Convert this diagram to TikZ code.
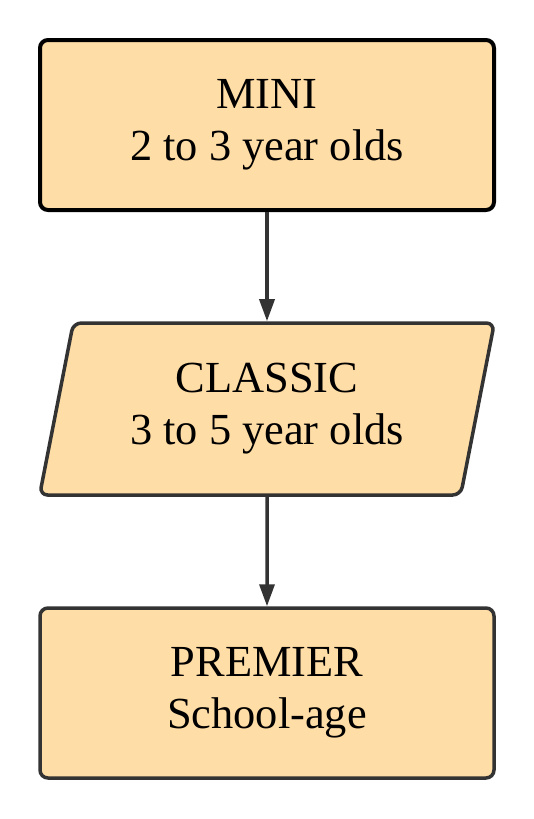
\documentclass[tikz,border=0pt]{standalone}
\usepackage{fontspec}
\setmainfont{Liberation Serif}
\usetikzlibrary{shapes.geometric, arrows.meta}
\definecolor{boxfill}{HTML}{FFDDA6}
\definecolor{boxline}{HTML}{333333}
\begin{document}
\begin{tikzpicture}[x=1pt, y=-1pt,
    every node/.style={fill=boxfill, align=center, font=\fontsize{44.4}{52}\selectfont, rounded corners=8pt},
    level/.style={rectangle, draw=boxline, line width=3.5pt, minimum width=454pt, minimum height=170pt},
    slanted/.style={trapezium, draw=boxline, line width=3.5pt, trapezium left angle=76, trapezium right angle=104, trapezium stretches=true, minimum width=455pt, minimum height=172pt},
    flow/.style={draw=boxline, line width=3.5pt, -{Triangle[length=22pt, width=15pt]}}]
    \useasboundingbox (0, 0) rectangle (534, 819);

    % Nodes for the three levels
    \node[level, draw=black, line width=4pt] (mini) at (267, 125) {MINI\\2 to 3 year olds};
    \node[slanted] (classic) at (267, 409) {CLASSIC\\3 to 5 year olds};
    \node[level] (premier) at (267, 693) {PREMIER\\School-age};

    % Arrows between the levels
    \draw[flow] (mini) -- (classic);
    \draw[flow] (classic) -- (premier);
\end{tikzpicture}
\end{document}
